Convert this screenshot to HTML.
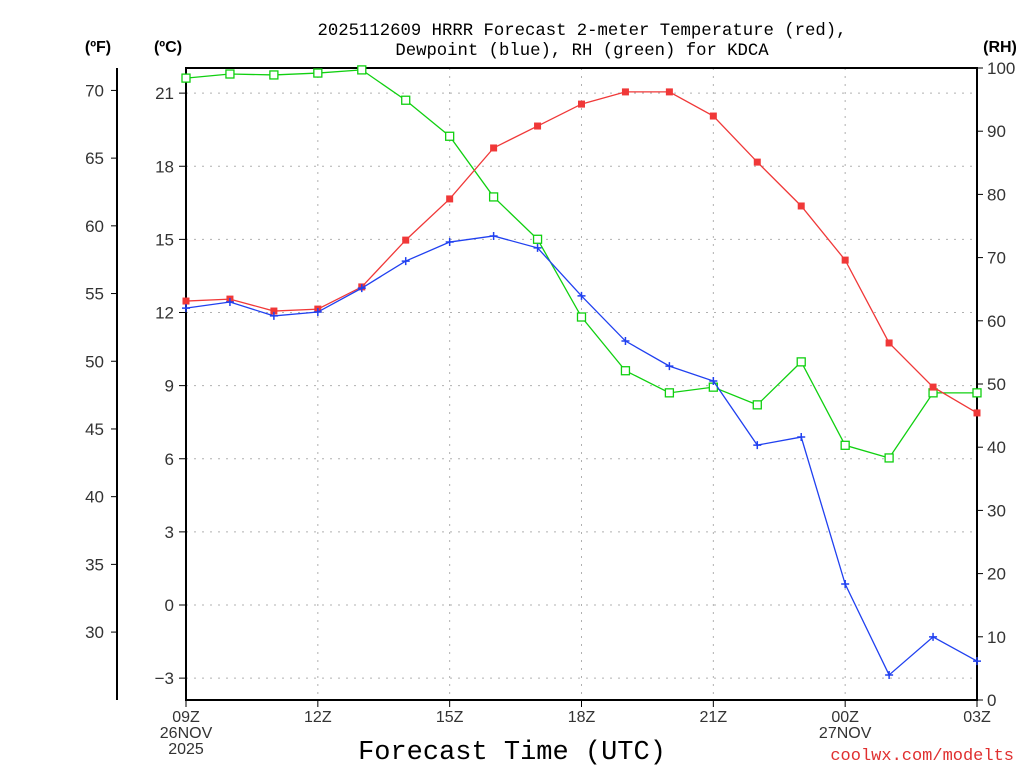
<!DOCTYPE html>
<html><head><meta charset="utf-8"><style>
html,body{margin:0;padding:0;background:#fff;}
svg{display:block;font-family:"Liberation Sans",sans-serif;}
.mono{font-family:"Liberation Mono",monospace;}
</style></head><body>
<svg id="chart" width="1024" height="768" viewBox="0 0 1024 768">
<text class="mono" x="582" y="35" text-anchor="middle" font-size="17.3" fill="#000">2025112609 HRRR Forecast 2-meter Temperature (red),</text>
<text class="mono" x="582" y="55" text-anchor="middle" font-size="17.3" fill="#000">Dewpoint (blue), RH (green) for KDCA</text>
<text x="98" y="52" text-anchor="middle" font-size="16" font-weight="bold">(ºF)</text>
<text x="168" y="52" text-anchor="middle" font-size="16" font-weight="bold">(ºC)</text>
<text x="1000" y="52" text-anchor="middle" font-size="16" font-weight="bold">(RH)</text>
<text class="mono" x="512" y="759" text-anchor="middle" font-size="27">Forecast Time (UTC)</text>
<text class="mono" x="1014" y="760" text-anchor="end" font-size="17" fill="#e03030">coolwx.com/modelts</text>
<g id="grid"></g>
<g id="axes"></g>
<g id="series"></g>
</svg>
<script>
const hours = [0,1,2,3,4,5,6,7,8,9,10,11,12,13,14,15,16,17,18];
const tempC = [12.47,12.55,12.06,12.14,13.05,14.97,16.66,18.75,19.65,20.55,21.05,21.05,20.06,18.17,16.37,14.15,10.75,8.94,7.88];
const dewC = [12.18,12.43,11.86,12.02,13.0,14.11,14.89,15.14,14.65,12.68,10.83,9.8,9.19,6.56,6.89,0.86,-2.87,-1.31,-2.30];
const rh = [98.4,99.05,98.9,99.2,99.7,94.9,89.2,79.6,72.9,60.6,52.1,48.6,49.5,46.7,53.5,40.3,38.3,48.6,48.6];
const cTicks = [-3,0,3,6,9,12,15,18,21];
const fTicks = [30,35,40,45,50,55,60,65,70];
const rhTicks = [0,10,20,30,40,50,60,70,80,90,100];
const xTickHours = [0,3,6,9,12,15,18];
const xTickLabels = [["09Z","26NOV","2025"],["12Z"],["15Z"],["18Z"],["21Z"],["00Z","27NOV"],["03Z"]];

const L=186,R=977,T=68,B=700;
const xs=h=>L+(R-L)*h/18;
const yc=c=>605-c*24.375;
const yf=f=>yc((f-32)*5/9);
const yr=r=>B-(B-T)*r/100;
const NS="http://www.w3.org/2000/svg";
function mk(parent,tag,attrs,text){const e=document.createElementNS(NS,tag);for(const k in attrs)e.setAttribute(k,attrs[k]);if(text!==undefined)e.textContent=text;document.getElementById(parent).appendChild(e);return e;}

cTicks.forEach(c=>{const e=mk('grid','line',{x1:L,x2:R,y1:yc(c),y2:yc(c),stroke:'#b0b0b0','stroke-dasharray':'2,6'});

});
xTickHours.slice(1,-1).forEach(h=>{const e=mk('grid','line',{x1:xs(h),x2:xs(h),y1:T,y2:B,stroke:'#b0b0b0','stroke-dasharray':'2,6'});

});

const fr=mk('axes','rect',{x:L,y:T,width:R-L,height:B-T,fill:'none',stroke:'#000','stroke-width':2});


const fl=mk('axes','line',{x1:117,x2:117,y1:T,y2:B,stroke:'#000','stroke-width':2});



cTicks.forEach(c=>{mk('axes','line',{x1:L-7,x2:L,y1:yc(c),y2:yc(c),stroke:'#000'});
const t=mk('axes','text',{x:L-12,y:yc(c)+6,'text-anchor':'end','font-size':17,fill:'#333'},c<0?'\u2212'+(-c):c);

});
fTicks.forEach(f=>{mk('axes','line',{x1:111,x2:117,y1:yf(f),y2:yf(f),stroke:'#000'});
const t=mk('axes','text',{x:104,y:yf(f)+6,'text-anchor':'end','font-size':17,fill:'#333'},f);

});
rhTicks.forEach(r=>{mk('axes','line',{x1:R,x2:R+6,y1:yr(r),y2:yr(r),stroke:'#000'});
const t=mk('axes','text',{x:R+10,y:yr(r)+6,'text-anchor':'start','font-size':17,fill:'#333'},r);

});
xTickHours.forEach((h,i)=>{mk('axes','line',{x1:xs(h),x2:xs(h),y1:B,y2:B+7,stroke:'#000'});
xTickLabels[i].forEach((s,j)=>{const t=mk('axes','text',{x:xs(h),y:B+22+j*16,'text-anchor':'middle','font-size':16,fill:'#333'},s);

});});

function series(vals,yfn,color,name,marker){
  const pts=vals.map((v,i)=>[xs(hours[i]),yfn(v)]);
  const pl=mk('series','polyline',{points:pts.map(p=>p.join(',')).join(' '),fill:'none',stroke:color,'stroke-width':1.3});
  
  
  pts.forEach(p=>{let m;
    if(marker==='fill'){m=mk('series','rect',{x:p[0]-3.5,y:p[1]-3.5,width:7,height:7,fill:color});}
    else if(marker==='open'){m=mk('series','rect',{x:p[0]-4,y:p[1]-4,width:8,height:8,fill:'#fff',stroke:color,'stroke-width':1.3});}
    else{m=mk('series','path',{d:`M${p[0]-4},${p[1]}H${p[0]+4}M${p[0]},${p[1]-4}V${p[1]+4}`,stroke:color,'stroke-width':1.5});}
    
    });
}
series(rh,yr,'#10d010','rh','open');
series(tempC,yc,'#f03838','temperature','fill');
series(dewC,yc,'#2040f0','dewpoint','plus');
</script>
</body></html>
